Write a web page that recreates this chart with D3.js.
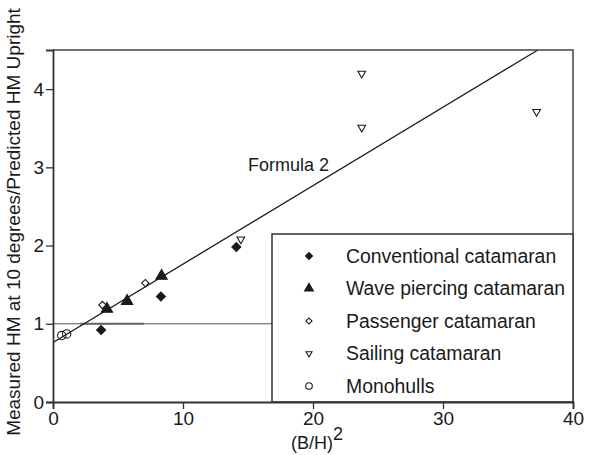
<!DOCTYPE html>
<html><head><meta charset="utf-8">
<script src="https://cdn.jsdelivr.net/npm/d3@7"></script>
<style>body{margin:0;background:#fff}svg{display:block}text{font-family:"Liberation Sans",Arial,sans-serif;fill:#1a1a1a}</style>
</head><body>
<svg id="c" width="590" height="455"></svg>
<script>
// Data
const xTicks = [0, 10, 20, 30, 40];
const yTicks = [0, 1, 2, 3, 4];
const conventionalX = [3.7, 8.3, 14.1];
const conventionalY = [0.92, 1.35, 1.98];
const wavePiercingX = [4.15, 5.7, 8.35];
const wavePiercingY = [1.19, 1.29, 1.61];
const passengerX = [3.8, 7.1];
const passengerY = [1.24, 1.52];
const sailingX = [14.45, 23.75, 23.75, 37.2];
const sailingY = [2.08, 4.2, 3.51, 3.71];
const monohullX = [0.67, 1.05];
const monohullY = [0.85, 0.87];
const formulaX = [0, 37.3];
const formulaY = [0.76, 4.5];
const refX = [0, 40];
const refY = [1, 1];
const refDarkX = [2.1, 7.0];
const legendNames = ["Conventional catamaran", "Wave piercing catamaran", "Passenger catamaran", "Sailing catamaran", "Monohulls"];
const formulaLabel = "Formula 2";
const yLabel = "Measured HM at 10 degrees/Predicted HM Upright";

const svg = d3.select("#c");
const L = 53, R = 573, T = 50, B = 402;
const x = d3.scaleLinear().domain([0, 40]).range([L, R]);
const y = d3.scaleLinear().domain([0, 4.5]).range([B, T]);
const ink = "#1a1a1a";
const font = '"Liberation Sans",Arial,sans-serif';

// reference line y=1
svg.append("line").attr("x1", x(refX[0])).attr("x2", x(refX[1])).attr("y1", y(refY[0])).attr("y2", y(refY[1]))
  .attr("stroke", "#555").attr("stroke-width", 1);
svg.append("line").attr("x1", x(refDarkX[0])).attr("x2", x(refDarkX[1])).attr("y1", y(1)).attr("y2", y(1))
  .attr("stroke", "#666").attr("stroke-width", 2);

// formula line
svg.append("line").attr("x1", x(formulaX[0])).attr("x2", x(formulaX[1])).attr("y1", y(formulaY[0])).attr("y2", y(formulaY[1]))
  .attr("stroke", ink).attr("stroke-width", 1.3);

svg.append("text").attr("x", 248).attr("y", 171).attr("font-size", 18).text(formulaLabel);

// frame top/right
svg.append("path").attr("d", `M${L},${T}H${R}V${B}`).attr("fill", "none").attr("stroke", "#444").attr("stroke-width", 1.5);

// markers
const sym = {
  diamond: d3.symbol().type(d3.symbolSquare),
  triangle: d3.symbol().type(d3.symbolTriangle),
  circle: d3.symbol().type(d3.symbolCircle)
};
const series = [
  {xs: conventionalX, ys: conventionalY, shape: "diamond", size: 40, fill: ink, rot: 45},
  {xs: wavePiercingX, ys: wavePiercingY, shape: "triangle", size: 55, fill: ink, rot: 0},
  {xs: passengerX, ys: passengerY, shape: "diamond", size: 26, fill: "#fff", rot: 45},
  {xs: sailingX, ys: sailingY, shape: "triangle", size: 26, fill: "#fff", rot: 180},
  {xs: monohullX, ys: monohullY, shape: "circle", size: 55, fill: "none", rot: 0}
];
series.forEach(s => {
  svg.append("g").selectAll("path").data(s.xs.map((v, i) => [v, s.ys[i]])).join("path")
    .attr("d", sym[s.shape].size(s.size)())
    .attr("transform", d => `translate(${x(d[0])},${y(d[1])}) rotate(${s.rot})`)
    .attr("fill", s.fill).attr("stroke", ink).attr("stroke-width", 1.1);
});

// legend
const lg = svg.append("g");
lg.append("rect").attr("x", 272).attr("y", 234).attr("width", R - 272).attr("height", B - 234)
  .attr("fill", "#fff").attr("stroke", "#333").attr("stroke-width", 1.5);
const legSizes = [24, 34, 18, 16, 34];
legendNames.forEach((n, i) => {
  const yy = 256 + i * 32.5;
  const s = series[i];
  lg.append("path").attr("d", sym[s.shape].size(legSizes[i])())
    .attr("transform", `translate(309,${yy}) rotate(${s.rot})`)
    .attr("fill", s.fill).attr("stroke", ink).attr("stroke-width", 1.1);
  lg.append("text").attr("x", 346).attr("y", yy).attr("dy", "0.35em").attr("font-size", 19.4).text(n);
});

// axes
const xa = svg.append("g").attr("transform", `translate(0,${B})`)
  .call(d3.axisBottom(x).tickValues(xTicks).tickSize(7).tickPadding(3).tickFormat(d3.format("d")));
const ya = svg.append("g").attr("transform", `translate(${L},0)`)
  .call(d3.axisLeft(y).tickValues(yTicks).tickSize(7).tickPadding(2).tickFormat(d3.format("d")));
[xa, ya].forEach(a => {
  a.attr("font-family", font);
  a.select(".domain").attr("stroke", "#333").attr("stroke-width", 1.8);
  a.selectAll(".tick line").attr("stroke", "#333").attr("stroke-width", 1.3);
  a.selectAll(".tick text").attr("font-size", 19).attr("font-family", font).attr("fill", ink);
});

// axis titles
const xt = svg.append("text").attr("x", 291).attr("y", 449).attr("font-size", 18);
xt.append("tspan").text("(B/H)");
xt.append("tspan").attr("dy", -9).attr("font-size", 18).text("2");
svg.append("text").attr("transform", "translate(20,222) rotate(-90)").attr("text-anchor", "middle")
  .attr("font-size", 19).text(yLabel);
</script>
</body></html>
